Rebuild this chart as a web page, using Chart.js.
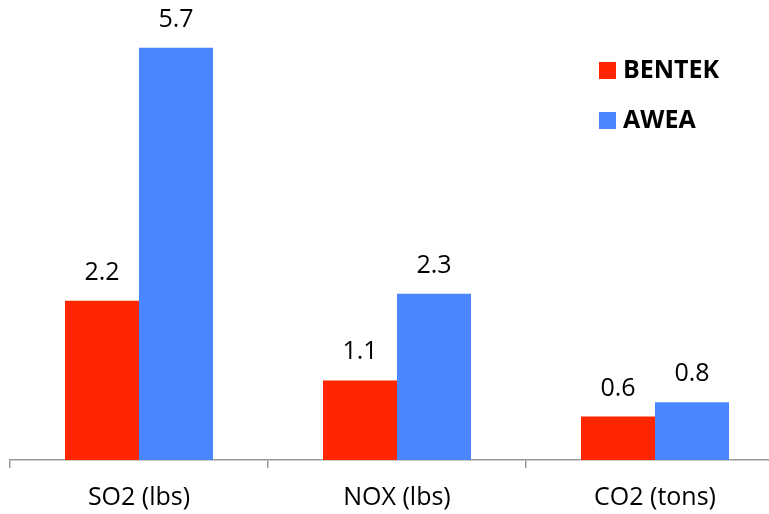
<!DOCTYPE html>
<html><head><meta charset="utf-8">
<script src="https://cdn.jsdelivr.net/npm/chart.js@4/dist/chart.umd.min.js"></script>
<style>
html,body{margin:0;padding:0;background:#fff;overflow:hidden;}
#wrap{width:769px;height:514px;overflow:hidden;position:relative;}
#box{width:800px;height:530px;position:absolute;left:0;top:0;}
</style></head><body>
<div id="wrap"><div id="box"><canvas id="c"></canvas></div></div>
<script>
const categories = ["SO2 (lbs)", "NOX (lbs)", "CO2 (tons)"];
const seriesNames = ["BENTEK", "AWEA"];
const bentek = [2.2, 1.1, 0.6];
const awea = [5.7, 2.3, 0.8];
const colors = ["#ff2600", "#4a86fd"];
const FONT = "'Open Sans', sans-serif";

const labelPlugin = {
  id: 'vals',
  afterDatasetsDraw(chart) {
    const ctx = chart.ctx;
    ctx.save();
    ctx.font = "25px " + FONT;
    ctx.fillStyle = "#000";
    ctx.textAlign = "center";
    ctx.textBaseline = "alphabetic";
    chart.data.datasets.forEach((ds, i) => {
      chart.getDatasetMeta(i).data.forEach((bar, j) => {
        ctx.fillText(ds.data[j].toFixed(1), bar.x, bar.y - 21);
      });
    });
    ctx.restore();
  }
};
const legendPlugin = {
  id: 'leg',
  afterDraw(chart) {
    const ctx = chart.ctx;
    ctx.save();
    ctx.font = "bold 25px " + FONT;
    ctx.textBaseline = "middle";
    ctx.textAlign = "left";
    chart.data.datasets.forEach((ds, i) => {
      const y = 70 + i * 50;
      ctx.fillStyle = ds.backgroundColor;
      ctx.fillRect(599, y - 8, 17, 17);
      ctx.fillStyle = "#000";
      ctx.fillText(ds.label, 623, y + 1);
    });
    ctx.restore();
  }
};

new Chart(document.getElementById('c'), {
  type: 'bar',
  data: {
    labels: categories,
    datasets: [
      { label: seriesNames[0], data: bentek, backgroundColor: colors[0] },
      { label: seriesNames[1], data: awea, backgroundColor: colors[1] }
    ]
  },
  options: {
    responsive: true,
    maintainAspectRatio: false,
    animation: false,
    layout: { padding: { left: 10, right: 16, top: 26, bottom: 2 } },
    datasets: { bar: { barPercentage: 1, categoryPercentage: 148/258 } },
    plugins: { legend: { display: false }, tooltip: { enabled: false } },
    scales: {
      y: { display: false, min: 0, max: 6 },
      x: {
        offset: true,
        grid: { offset: true, drawOnChartArea: false, drawTicks: true, tickLength: 8, color: "#999", lineWidth: 1.5 },
        border: { display: true, color: "#999", width: 1.5 },
        ticks: { color: "#000", padding: 15, font: { family: FONT, size: 25 } }
      }
    }
  },
  plugins: [labelPlugin, legendPlugin]
});
</script>
</body></html>
